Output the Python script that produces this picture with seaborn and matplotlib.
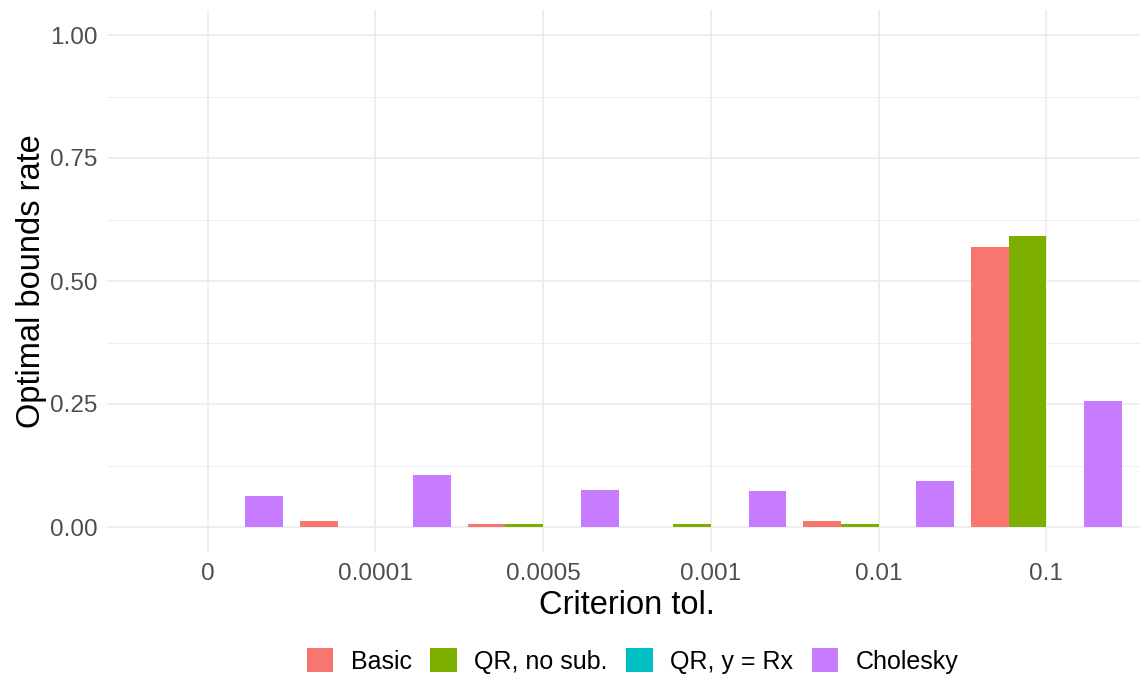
import matplotlib
matplotlib.use("Agg")
import matplotlib.pyplot as plt
import matplotlib.patches as mpatches
from matplotlib.ticker import MultipleLocator
import seaborn as sns
import pandas as pd

# ---- data ----
tolerances = ["0", "0.0001", "0.0005", "0.001", "0.01", "0.1"]
methods = ["Basic", "QR, no sub.", "QR, y = Rx", "Cholesky"]
basic = [0.0, 0.0125, 0.00625, 0.0, 0.0125, 0.569]
qr_nosub = [0.0, 0.0, 0.00625, 0.00625, 0.00625, 0.592]
qr_yrx = [0.0, 0.0, 0.0, 0.0, 0.0, 0.0]
cholesky = [0.063, 0.106, 0.075, 0.073, 0.093, 0.256]
colors = ["#F8766D", "#7CAE00", "#00BFC4", "#C77CFF"]

rows = []
for m, vals in zip(methods, [basic, qr_nosub, qr_yrx, cholesky]):
    for t, v in zip(tolerances, vals):
        rows.append({"tol": t, "method": m, "rate": v})
df = pd.DataFrame(rows)

sns.set_theme(style="white")
plt.rcParams["font.family"] = ["Liberation Sans", "DejaVu Sans"]

fig = plt.figure(figsize=(11.4, 6.78), dpi=100)
ax = fig.add_axes([107 / 1140, (678 - 551.6) / 678, 1040 / 1140, 541.2 / 678])

sns.barplot(data=df, x="tol", y="rate", hue="method", order=tolerances,
            hue_order=methods, palette=colors, width=0.9, gap=0,
            saturation=1, errorbar=None, ax=ax, legend=False, zorder=3,
            linewidth=0, edgecolor="none")

ax.set_xlim(-0.6, 5.6)
ax.set_ylim(-0.05, 1.05)
ax.set_yticks([0, 0.25, 0.5, 0.75, 1.0])
ax.set_yticklabels(["0.00", "0.25", "0.50", "0.75", "1.00"])
ax.yaxis.set_minor_locator(MultipleLocator(0.125))
for s in ax.spines.values():
    s.set_visible(False)
ax.set_axisbelow(True)
ax.grid(True, which="major", axis="both", color="#EBEBEB", linewidth=1.2)
ax.grid(True, which="minor", axis="y", color="#EBEBEB", linewidth=0.6)
ax.tick_params(axis="both", which="both", length=0, labelsize=17.5,
               labelcolor="#4D4D4D")
ax.tick_params(axis="x", pad=8)
ax.tick_params(axis="y", pad=7)
ax.set_xlabel("Criterion tol.", fontsize=23.5, color="black", labelpad=4)
ax.set_ylabel("Optimal bounds rate", fontsize=23.5, color="black", labelpad=2)

handles = [mpatches.Patch(facecolor=c, edgecolor="none", label=m)
           for c, m in zip(colors, methods)]
leg = fig.legend(handles=handles, loc="center",
                 bbox_to_anchor=(0.555, 1 - 661 / 678),
                 ncol=4, frameon=False, fontsize=18, handlelength=1.05,
                 handleheight=1.05, handletextpad=0.7, columnspacing=0.75,
                 borderaxespad=0)
for t in leg.get_texts():
    t.set_color("black")

fig.savefig("out.png", dpi=100, facecolor="white")
